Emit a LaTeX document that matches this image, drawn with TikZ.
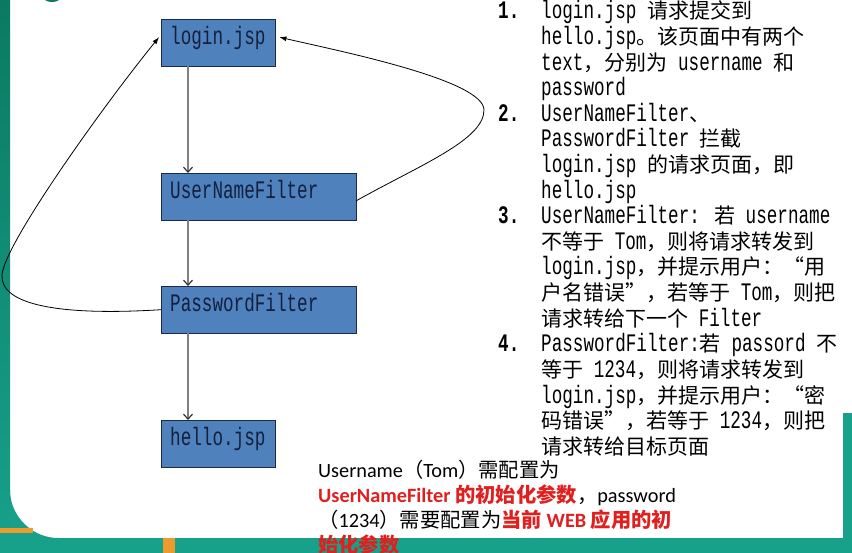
\documentclass[tikz,border=0pt]{standalone}
\usepackage{fontspec}
\usetikzlibrary{arrows.meta}
\newfontfamily\monofont[Scale=1.2,FakeStretch=0.7]{Liberation Mono}
\newfontfamily\zhfont{Noto Sans CJK SC}
\newfontfamily\calfont{Carlito}
\newcommand\zh[1]{{\zhfont #1}}
\definecolor{boxblue}{HTML}{4F81BD}
\definecolor{boxline}{HTML}{1B2A47}
\definecolor{boxtext}{HTML}{13203D}
\definecolor{frame}{HTML}{17A08A}
\definecolor{framedark}{HTML}{0C7A62}
\definecolor{accent}{HTML}{EE9B2E}
\definecolor{alert}{HTML}{E0201F}
\begin{document}
\begin{tikzpicture}
[x=1bp,y=-1bp,
page/.style={draw=boxline,fill=boxblue,text=boxtext,anchor=north west,
  font=\monofont\fontsize{21bp}{25bp}\selectfont,
  minimum height=47bp,inner xsep=9bp,inner ysep=0pt,
  text height=14bp,text depth=10bp,align=left,text width=96bp},
filter/.style={page,text width=177bp},
down/.style={draw=gray,line width=1.2bp,-{Straight Barb[length=5bp,width=9bp,color=black!80]}},
back/.style={draw=black,line width=0.8bp,-{Latex[length=7bp,width=5bp]}},
listline/.style={anchor=base west,inner sep=0pt,font=\monofont\fontsize{21bp}{25.6bp}\selectfont},
listnum/.style={listline,font=\monofont\bfseries\fontsize{21bp}{25.6bp}\selectfont},
noteline/.style={anchor=base west,inner sep=0pt,font=\calfont\fontsize{20.3bp}{25bp}\selectfont}]
\useasboundingbox (0,0) rectangle (852,553);
\fill[white] (0,0) rectangle (852,553);
\shade[top color=framedark,bottom color=frame] (0,0) rectangle (10,540);
\fill[frame] (0,538) rectangle (852,553);
\fill[frame] (843,413) rectangle (852,553);
\fill[frame] (10,490) .. controls (10,516) and (32,538) .. (58,538) -- (10,538) -- cycle;
\fill[accent] (163,538) rectangle (175,553);
\fill[accent] (0,528) rectangle (33,533);
\fill[framedark] (52,-12) circle (14);

\node[page] (login) at (161,19) {login.jsp};
\node[filter] (unf) at (161,173) {UserNameFilter};
\node[filter] (pf) at (161,286) {PasswordFilter};
\node[page] (hello) at (161,420) {hello.jsp};

\draw[down] ([xshift=27bp]login.south west) -- ([xshift=27bp]unf.north west);
\draw[down] ([xshift=27bp]unf.south west) -- ([xshift=27bp]pf.north west);
\draw[down] ([xshift=27bp]pf.south west) -- ([xshift=27bp]hello.north west);
\draw[back] ([yshift=-4bp]unf.east) .. controls (420,165) and (484,140) .. (484,110)
  .. controls (484,80) and (339,51) .. ([xshift=4bp,yshift=5.5bp]login.east);
\draw[back] (pf.west) .. controls (60,316) and (0,305) .. (2,275)
  .. controls (4,245) and (100,110) .. ([xshift=-2bp,yshift=5.5bp]login.west);

\node[listnum] (n1) at (498,19) {1.};
\node[listnum] (n2) at (498,121.4) {2.};
\node[listnum] (n3) at (498,223.8) {3.};
\node[listnum] (n4) at (498,351.8) {4.};
\foreach \txt [count=\i from 0] in {
  {login.jsp \zh{请求提交到}},
  {hello.jsp\zh{。该页面中有两个}},
  {text\zh{，分别为} username \zh{和}},
  {password},
  {UserNameFilter\zh{、}},
  {PasswordFilter \zh{拦截}},
  {login.jsp \zh{的请求页面，即}},
  {hello.jsp},
  {UserNameFilter: \zh{若} username},
  {\zh{不等于} Tom\zh{，则将请求转发到}},
  {login.jsp\zh{，并提示用户：“用}},
  {\zh{户名错误”，若等于} Tom\zh{，则把}},
  {\zh{请求转给下一个} Filter},
  {PasswordFilter:\zh{若} passord \zh{不}},
  {\zh{等于} 1234\zh{，则将请求转发到}},
  {login.jsp\zh{，并提示用户：“密}},
  {\zh{码错误”，若等于} 1234\zh{，则把}},
  {\zh{请求转给目标页面}}}
  \node[listline] (line\i) at (541,19+25.6*\i) {\txt};

\node[noteline] (note1) at (318,477) {Username\zh{（}Tom\zh{）需配置为}};
\node[noteline] (note2) at (318,502) {\textcolor{alert}{\bfseries UserNameFilter \zh{的初始化参数}}\zh{，}password};
\node[noteline] (note3) at (318,527) {\zh{（}1234\zh{）需要配置为}\textcolor{alert}{\bfseries\zh{当前} WEB \zh{应用的初}}};
\node[noteline] (note4) at (318,552) {\textcolor{alert}{\bfseries\zh{始化参数}}};
\end{tikzpicture}
\end{document}
